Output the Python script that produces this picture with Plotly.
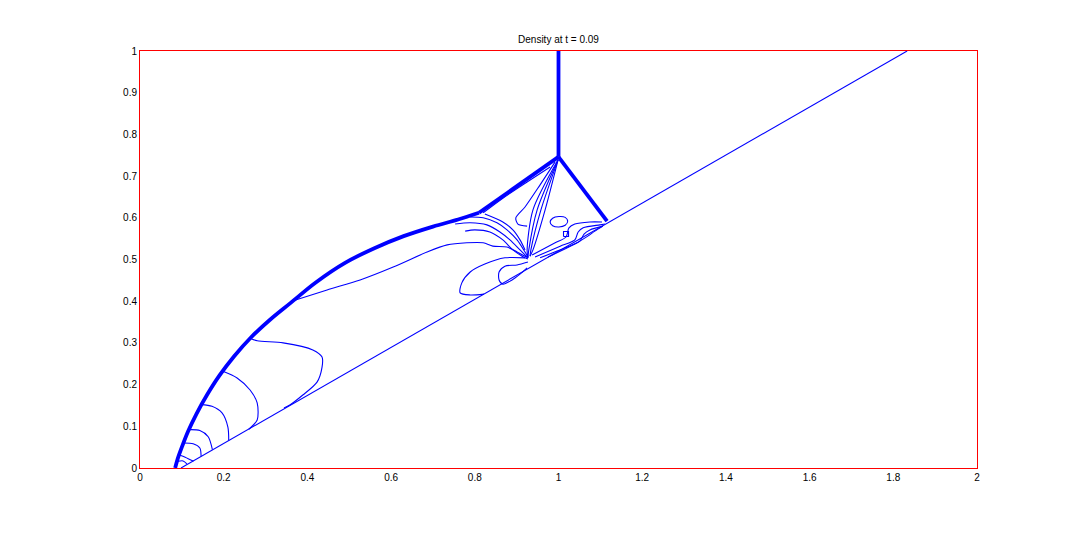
import plotly.graph_objects as go

# ---- data (contour polylines in data units) ----
wedge_x = [0.098, 1.833]
wedge_y = [0.0, 1.0]

bow_x = [0.084, 0.090, 0.100, 0.115, 0.135, 0.160, 0.190, 0.225, 0.265, 0.310, 0.360,
         0.420, 0.490, 0.560, 0.630, 0.700, 0.760, 0.810]
bow_y = [0.000, 0.022, 0.050, 0.088, 0.130, 0.175, 0.222, 0.268, 0.313, 0.355, 0.396,
         0.445, 0.492, 0.527, 0.556, 0.579, 0.596, 0.612]

upper_x = [0.810, 1.0]
upper_y = [0.612, 0.746]
stem_x = [1.0, 1.0]
stem_y = [0.746, 1.0]
refl_x = [1.0, 1.116]
refl_y = [0.746, 0.592]

cA_x = [0.263, 0.280, 0.342, 0.413, 0.435, 0.435, 0.423, 0.389, 0.358, 0.344]
cA_y = [0.311, 0.305, 0.300, 0.283, 0.266, 0.242, 0.206, 0.175, 0.151, 0.144]
cB_x = [0.198, 0.232, 0.263, 0.280, 0.280, 0.260]
cB_y = [0.232, 0.216, 0.187, 0.156, 0.115, 0.093]
cC_x = [0.146, 0.172, 0.196, 0.210, 0.212]
cC_y = [0.152, 0.148, 0.132, 0.098, 0.066]
cD_x = [0.117, 0.143, 0.163, 0.173]
cD_y = [0.092, 0.090, 0.075, 0.044]
cE_x = [0.105, 0.127, 0.143, 0.146]
cE_y = [0.060, 0.058, 0.048, 0.028]
cF_x = [0.094, 0.108, 0.124, 0.128]
cF_y = [0.031, 0.026, 0.018, 0.017]
cG2_x = [0.090, 0.103, 0.112]
cG2_y = [0.016, 0.017, 0.010]

cG_x = [0.366, 0.447, 0.526, 0.605, 0.686, 0.734, 0.781, 0.820, 0.843, 0.877, 0.901, 0.927]
cG_y = [0.401, 0.427, 0.451, 0.482, 0.518, 0.535, 0.540, 0.540, 0.532, 0.530, 0.518, 0.504]
cH_x = [0.822, 0.789, 0.765, 0.769, 0.789, 0.824, 0.872, 0.920]
cH_y = [0.417, 0.415, 0.420, 0.444, 0.470, 0.489, 0.504, 0.504]
cI_x = [0.927, 0.901, 0.872, 0.858, 0.858, 0.867, 0.889, 0.908, 0.925]
cI_y = [0.494, 0.487, 0.484, 0.470, 0.451, 0.441, 0.451, 0.465, 0.480]

cL1_x = [0.820, 0.867, 0.925, 0.980]
cL1_y = [0.612, 0.647, 0.686, 0.722]

s1_x = [0.999, 0.939, 0.925, 0.927]
s1_y = [0.739, 0.619, 0.523, 0.504]
s2_x = [0.999, 0.949, 0.929, 0.927]
s2_y = [0.739, 0.619, 0.523, 0.504]
s3_x = [0.999, 0.958, 0.934, 0.932]
s3_y = [0.739, 0.619, 0.523, 0.508]
s4_x = [0.999, 0.968, 0.939, 0.932]
s4_y = [0.739, 0.619, 0.523, 0.508]

cK_x = [0.992, 0.956, 0.920, 0.898, 0.903, 0.925]
cK_y = [0.734, 0.679, 0.626, 0.600, 0.585, 0.580]

f1_x = [0.789, 0.820, 0.853, 0.877, 0.901, 0.920, 0.927]
f1_y = [0.602, 0.600, 0.588, 0.571, 0.547, 0.518, 0.506]
f2_x = [0.753, 0.789, 0.829, 0.860, 0.884, 0.908, 0.925]
f2_y = [0.585, 0.588, 0.583, 0.566, 0.547, 0.523, 0.506]
f3_x = [0.777, 0.800, 0.836, 0.867, 0.891, 0.913, 0.927]
f3_y = [0.568, 0.571, 0.566, 0.547, 0.523, 0.508, 0.501]
f4_x = [0.824, 0.867, 0.891, 0.908, 0.920]
f4_y = [0.609, 0.590, 0.571, 0.547, 0.523]

r1_x = [0.937, 0.992, 1.018, 1.025, 1.039, 1.075, 1.104]
r1_y = [0.511, 0.540, 0.554, 0.576, 0.585, 0.590, 0.590]
r2_x = [0.944, 1.004, 1.039, 1.047, 1.059, 1.099, 1.111]
r2_y = [0.506, 0.532, 0.547, 0.566, 0.576, 0.583, 0.585]
r3_x = [0.956, 1.016, 1.051, 1.061, 1.075, 1.106]
r3_y = [0.504, 0.528, 0.544, 0.561, 0.571, 0.580]
r4_x = [0.975, 1.039, 1.070, 1.087, 1.106]
r4_y = [0.506, 0.537, 0.556, 0.568, 0.580]

oval_x = [1.022, 1.016, 1.001, 0.986, 0.980, 0.986, 1.001, 1.016, 1.022]
oval_y = [0.592, 0.601, 0.603, 0.599, 0.590, 0.581, 0.578, 0.582, 0.592]
sq_x = [1.012, 1.024, 1.024, 1.012, 1.012]
sq_y = [0.555, 0.555, 0.567, 0.567, 0.555]

x_tickvals = [0, 0.2, 0.4, 0.6, 0.8, 1, 1.2, 1.4, 1.6, 1.8, 2]
x_ticktext = ["0", "0.2", "0.4", "0.6", "0.8", "1", "1.2", "1.4", "1.6", "1.8", "2"]
y_tickvals = [0, 0.1, 0.2, 0.3, 0.4, 0.5, 0.6, 0.7, 0.8, 0.9, 1]
y_ticktext = ["0", "0.1", "0.2", "0.3", "0.4", "0.5", "0.6", "0.7", "0.8", "0.9", "1"]

title_text = "Density at t = 0.09"

# ---- figure ----
thick = [(bow_x, bow_y, "spline"), (upper_x, upper_y, "linear"),
         (stem_x, stem_y, "linear"), (refl_x, refl_y, "linear")]
thin = [(wedge_x, wedge_y), (cA_x, cA_y), (cB_x, cB_y), (cC_x, cC_y), (cD_x, cD_y),
        (cE_x, cE_y), (cF_x, cF_y), (cG2_x, cG2_y), (cG_x, cG_y), (cH_x, cH_y),
        (cI_x, cI_y), (cL1_x, cL1_y), (s1_x, s1_y), (s2_x, s2_y), (s3_x, s3_y),
        (s4_x, s4_y), (cK_x, cK_y), (f1_x, f1_y), (f2_x, f2_y), (f3_x, f3_y),
        (f4_x, f4_y), (r1_x, r1_y), (r2_x, r2_y), (r3_x, r3_y), (r4_x, r4_y),
        (oval_x, oval_y), (sq_x, sq_y)]

fig = go.Figure()
for xs, ys in thin:
    shape = "linear" if len(xs) <= 2 or xs is sq_x else "spline"
    fig.add_trace(go.Scatter(x=xs, y=ys, mode="lines",
                             line=dict(color="#0000FF", width=1.1, shape=shape, smoothing=0.8),
                             showlegend=False, hoverinfo="skip"))
for xs, ys, shape in thick:
    fig.add_trace(go.Scatter(x=xs, y=ys, mode="lines",
                             line=dict(color="#0000FF", width=3.8, shape=shape, smoothing=1.0),
                             showlegend=False, hoverinfo="skip"))

axis_common = dict(showgrid=False, zeroline=False, showline=True, linecolor="#FF0000",
                   linewidth=1, mirror=True, ticks="", tickfont=dict(size=10, color="black",
                   family="Liberation Sans, Arial, sans-serif"))

# the page body adds an 8px offset, margins compensate for it
fig.update_layout(
    width=1080, height=540,
    margin=dict(l=132, r=111, t=43, b=80),
    paper_bgcolor="white", plot_bgcolor="white",
    title=dict(text=title_text, x=(132 + 969) / 2 / 1080, xanchor="center",
               y=1 - 31 / 540, yanchor="middle", yref="container",
               font=dict(size=10, color="black", family="Liberation Sans, Arial, sans-serif")),
    xaxis=dict(range=[0, 2], tickvals=x_tickvals, ticktext=x_ticktext, **axis_common),
    yaxis=dict(range=[0, 1], tickvals=y_tickvals, ticktext=y_ticktext, **axis_common),
    hovermode=False,
)

fig.write_html("out.html")
